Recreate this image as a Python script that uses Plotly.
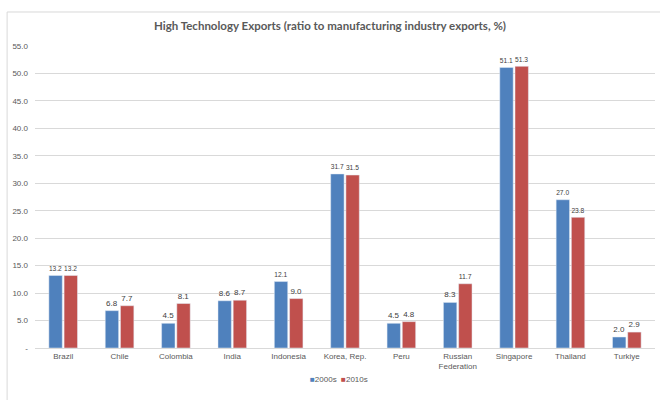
import plotly.graph_objects as go

categories = ["Brazil", "Chile", "Colombia", "India", "Indonesia", "Korea, Rep.", "Peru",
              "Russian<br>Federation", "Singapore", "Thailand", "Turkiye"]
s2000s = [13.2, 6.8, 4.5, 8.6, 12.1, 31.7, 4.5, 8.3, 51.1, 27.0, 2.0]
s2010s = [13.2, 7.7, 8.1, 8.7, 9.0, 31.5, 4.8, 11.7, 51.3, 23.8, 2.9]
series_names = ["2000s", "2010s"]
series_colors = ["#4F81BD", "#C0504D"]
tick_vals = [0, 5, 10, 15, 20, 25, 30, 35, 40, 45, 50, 55]
tick_text = ["-"] + [f"{v:.1f}" for v in tick_vals[1:]]

font_family = "Liberation Sans, Arial, sans-serif"
txt_color = "#595959"

fig = go.Figure()
for name, vals, col in zip(series_names, [s2000s, s2010s], series_colors):
    fig.add_trace(go.Bar(name=name, x=categories, y=vals, marker_color=col,
                         texttemplate="%{y:.1f}", textposition="outside",
                         textfont=dict(size=8, color="#404040"), cliponaxis=False,
                         showlegend=False))

legend_text = "  ".join(
    f"<span style='color:{c}'>■</span>{n}" for n, c in zip(series_names, series_colors))

fig.update_layout(
    width=660, height=400,
    margin=dict(l=35, r=5, t=46, b=52, autoexpand=False),
    paper_bgcolor="white", plot_bgcolor="white",
    font=dict(family=font_family, color=txt_color, size=8),
    title=dict(text="High Technology Exports (ratio to manufacturing industry exports, %)",
               x=0.5, xanchor="center", y=0.935, yanchor="middle",
               font=dict(size=11.5, color=txt_color, family="Lato, sans-serif", weight=700)),
    barmode="group", bargap=0.46, bargroupgap=0.12,
    showlegend=False,
    annotations=[dict(text=legend_text, xref="paper", yref="paper", x=0.49, y=-0.103,
                      xanchor="center", yanchor="middle", showarrow=False,
                      font=dict(size=8, color=txt_color))],
    shapes=[dict(type="rect", xref="paper", yref="paper", x0=-0.045, x1=1.01,
                 y0=-0.175, y1=1.1126, line=dict(color="#D9D9D9", width=1), layer="below")],
)
fig.update_yaxes(range=[0, 55], tickvals=tick_vals, ticktext=tick_text, automargin=False,
                 showgrid=True, gridcolor="#D9D9D9", gridwidth=1, zeroline=False,
                 showline=False, tickfont=dict(size=8, color=txt_color), ticklabelstandoff=6)
fig.update_xaxes(showline=True, linecolor="#D9D9D9", linewidth=1, automargin=False,
                 tickfont=dict(size=8, color=txt_color), ticks="")

fig.write_html("out.html", config={"displayModeBar": False},
               post_script="document.body.style.margin='0';")
